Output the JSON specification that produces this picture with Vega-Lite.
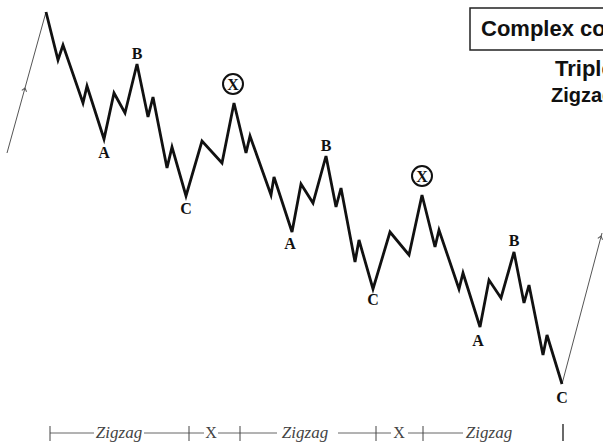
{
  "$schema": "https://vega.github.io/schema/vega-lite/v6.json",
  "width": 603,
  "height": 443,
  "padding": 0,
  "autosize": {"type": "none"},
  "background": "white",
  "config": {"view": {"stroke": null}},
  "datasets": {
    "wave": [
      {"x": 46, "y": 12}, {"x": 58, "y": 60}, {"x": 63, "y": 45}, {"x": 83, "y": 103}, {"x": 87, "y": 86},
      {"x": 104, "y": 139}, {"x": 114, "y": 93}, {"x": 125, "y": 113}, {"x": 137, "y": 64}, {"x": 148, "y": 117},
      {"x": 153, "y": 97}, {"x": 167, "y": 168}, {"x": 172, "y": 147}, {"x": 186, "y": 196}, {"x": 202, "y": 141},
      {"x": 222, "y": 163}, {"x": 234, "y": 103}, {"x": 246, "y": 153}, {"x": 250, "y": 136}, {"x": 271, "y": 195},
      {"x": 274, "y": 177}, {"x": 292, "y": 232}, {"x": 301, "y": 184}, {"x": 313, "y": 203}, {"x": 326, "y": 156},
      {"x": 336, "y": 207}, {"x": 341, "y": 188}, {"x": 355, "y": 262}, {"x": 359, "y": 240}, {"x": 373, "y": 289},
      {"x": 390, "y": 232}, {"x": 409, "y": 255}, {"x": 422, "y": 195}, {"x": 435, "y": 247}, {"x": 439, "y": 230},
      {"x": 459, "y": 289}, {"x": 463, "y": 273}, {"x": 480, "y": 327}, {"x": 489, "y": 280}, {"x": 501, "y": 298},
      {"x": 514, "y": 252}, {"x": 524, "y": 303}, {"x": 529, "y": 285}, {"x": 543, "y": 355}, {"x": 547, "y": 335},
      {"x": 562, "y": 384}
    ],
    "thin": [
      {"seg": "in", "x": 7, "y": 153}, {"seg": "in", "x": 46, "y": 12},
      {"seg": "out", "x": 562, "y": 384}, {"seg": "out", "x": 602, "y": 233}
    ],
    "arrows": [
      {"x": 25, "y": 88}, {"x": 601, "y": 236}
    ],
    "labels": [
      {"x": 104, "y": 153, "label": "A"}, {"x": 137, "y": 54, "label": "B"}, {"x": 186, "y": 209, "label": "C"},
      {"x": 290, "y": 244, "label": "A"}, {"x": 326, "y": 146, "label": "B"}, {"x": 373, "y": 300, "label": "C"},
      {"x": 478, "y": 341, "label": "A"}, {"x": 514, "y": 241, "label": "B"}, {"x": 562, "y": 398, "label": "C"}
    ],
    "xmarks": [
      {"x": 233, "y": 84, "label": "X"}, {"x": 422, "y": 176, "label": "X"}
    ],
    "hsegs": [
      {"x": 50, "x2": 94, "y": 433}, {"x": 144, "x2": 189, "y": 433}, {"x": 189, "x2": 204, "y": 433},
      {"x": 218, "x2": 240, "y": 433}, {"x": 240, "x2": 277, "y": 433}, {"x": 338, "x2": 376, "y": 433},
      {"x": 376, "x2": 391, "y": 433}, {"x": 408, "x2": 423, "y": 433}, {"x": 423, "x2": 463, "y": 433}
    ],
    "ticks": [
      {"x": 50, "y": 426, "y2": 441, "w": 1}, {"x": 189, "y": 426, "y2": 441, "w": 1},
      {"x": 240, "y": 426, "y2": 441, "w": 1}, {"x": 376, "y": 426, "y2": 441, "w": 1},
      {"x": 423, "y": 426, "y2": 441, "w": 1}, {"x": 563, "y": 424, "y2": 441, "w": 1.6}
    ],
    "zigText": [
      {"x": 119, "y": 433, "label": "Zigzag"},
      {"x": 305, "y": 433, "label": "Zigzag"},
      {"x": 489, "y": 433, "label": "Zigzag"}
    ],
    "xText": [
      {"x": 211, "y": 433, "label": "X"},
      {"x": 399, "y": 433, "label": "X"}
    ],
    "box": [
      {"x": 470, "x2": 640, "y": 8, "y2": 50}
    ],
    "boxText": [
      {"x": 481, "y": 36, "label": "Complex corrections", "size": 22},
      {"x": 555, "y": 76, "label": "Triple", "size": 22},
      {"x": 551, "y": 102, "label": "Zigzag", "size": 20}
    ]
  },
  "layer": [
    {
      "data": {"name": "thin"},
      "mark": {"type": "line", "color": "#555555", "strokeWidth": 1},
      "encoding": {
        "x": {"field": "x", "type": "quantitative", "scale": {"domain": [0, 603], "nice": false, "zero": false}, "axis": null},
        "y": {"field": "y", "type": "quantitative", "scale": {"domain": [0, 443], "nice": false, "zero": false, "reverse": true}, "axis": null},
        "detail": {"field": "seg"}
      }
    },
    {
      "data": {"name": "arrows"},
      "mark": {"type": "point", "shape": "M-0.7,0.9L0,0L0.7,0.9", "filled": false, "color": "#555555", "opacity": 1, "strokeWidth": 1, "size": 50, "angle": 15},
      "encoding": {
        "x": {"field": "x", "type": "quantitative"},
        "y": {"field": "y", "type": "quantitative"}
      }
    },
    {
      "data": {"name": "wave"},
      "mark": {"type": "line", "color": "#111111", "strokeWidth": 2.8, "strokeJoin": "miter", "strokeMiterLimit": 4},
      "encoding": {
        "x": {"field": "x", "type": "quantitative"},
        "y": {"field": "y", "type": "quantitative"}
      }
    },
    {
      "data": {"name": "labels"},
      "mark": {"type": "text", "font": "Liberation Serif", "fontWeight": "bold", "fontSize": 16, "align": "center", "baseline": "middle", "color": "#111111"},
      "encoding": {
        "x": {"field": "x", "type": "quantitative"},
        "y": {"field": "y", "type": "quantitative"},
        "text": {"field": "label"}
      }
    },
    {
      "data": {"name": "xmarks"},
      "mark": {"type": "point", "shape": "circle", "filled": false, "color": "#111111", "opacity": 1, "strokeWidth": 2, "size": 400},
      "encoding": {
        "x": {"field": "x", "type": "quantitative"},
        "y": {"field": "y", "type": "quantitative"}
      }
    },
    {
      "data": {"name": "xmarks"},
      "mark": {"type": "text", "font": "Liberation Serif", "fontWeight": "bold", "fontSize": 16, "align": "center", "baseline": "middle", "dy": 1, "color": "#111111"},
      "encoding": {
        "x": {"field": "x", "type": "quantitative"},
        "y": {"field": "y", "type": "quantitative"},
        "text": {"field": "label"}
      }
    },
    {
      "data": {"name": "hsegs"},
      "mark": {"type": "rule", "color": "#666666", "strokeWidth": 1},
      "encoding": {
        "x": {"field": "x", "type": "quantitative"},
        "x2": {"field": "x2"},
        "y": {"field": "y", "type": "quantitative"}
      }
    },
    {
      "data": {"name": "ticks"},
      "mark": {"type": "rule", "color": "#444444"},
      "encoding": {
        "x": {"field": "x", "type": "quantitative"},
        "y": {"field": "y", "type": "quantitative"},
        "y2": {"field": "y2"},
        "strokeWidth": {"field": "w", "type": "quantitative", "scale": null}
      }
    },
    {
      "data": {"name": "zigText"},
      "mark": {"type": "text", "font": "Liberation Serif", "fontStyle": "italic", "fontSize": 17, "align": "center", "baseline": "middle", "color": "#444444"},
      "encoding": {
        "x": {"field": "x", "type": "quantitative"},
        "y": {"field": "y", "type": "quantitative"},
        "text": {"field": "label"}
      }
    },
    {
      "data": {"name": "xText"},
      "mark": {"type": "text", "font": "Liberation Serif", "fontSize": 16, "align": "center", "baseline": "middle", "color": "#444444"},
      "encoding": {
        "x": {"field": "x", "type": "quantitative"},
        "y": {"field": "y", "type": "quantitative"},
        "text": {"field": "label"}
      }
    },
    {
      "data": {"name": "box"},
      "mark": {"type": "rect", "fill": "white", "stroke": "#222222", "strokeWidth": 1.5},
      "encoding": {
        "x": {"field": "x", "type": "quantitative"},
        "x2": {"field": "x2"},
        "y": {"field": "y", "type": "quantitative"},
        "y2": {"field": "y2"}
      }
    },
    {
      "data": {"name": "boxText"},
      "mark": {"type": "text", "font": "Liberation Sans", "fontWeight": "bold", "align": "left", "baseline": "alphabetic", "color": "#111111"},
      "encoding": {
        "x": {"field": "x", "type": "quantitative"},
        "y": {"field": "y", "type": "quantitative"},
        "text": {"field": "label"},
        "size": {"field": "size", "type": "quantitative", "scale": null, "legend": null}
      }
    }
  ]
}
